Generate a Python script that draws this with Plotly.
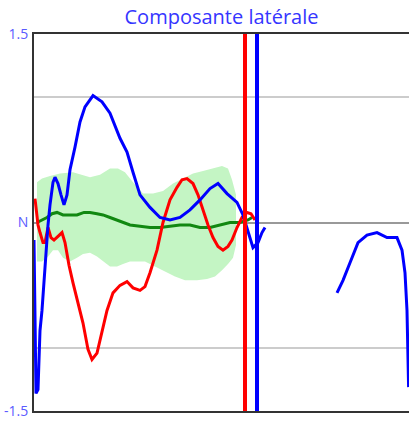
import plotly.graph_objects as go

# ---- data (frame index, normalised lateral component) ----
blue_x = [0, 1, 2, 4, 6, 8, 10, 12, 14, 16, 19, 21, 24, 27, 30, 33, 36, 41, 46, 51, 59, 68, 76, 86, 93, 99,
          106, 116, 126, 136, 146, 156, 166, 176, 184, 193, 203, 209, 214, 219, 224, 228, 231,
          None,
          303, 309, 316, 324, 333, 343, 353, 363, 368, 371, 373, 374, 374.6]
blue_y = [-0.14, -0.62, -1.36, -1.33, -0.86, -0.70, -0.46, -0.18, -0.02, 0.14, 0.32, 0.36, 0.31, 0.22, 0.14,
          0.22, 0.42, 0.60, 0.80, 0.92, 1.01, 0.96, 0.87, 0.67, 0.56, 0.40,
          0.22, 0.12, 0.04, 0.02, 0.04, 0.10, 0.18, 0.27, 0.31, 0.23, 0.16, 0.06, -0.08, -0.20, -0.16, -0.08, -0.04,
          None,
          -0.56, -0.46, -0.32, -0.16, -0.10, -0.08, -0.12, -0.12, -0.22, -0.40, -0.70, -1.01, -1.31]

red_x = [1, 4, 6, 9, 11, 14, 17, 20, 24, 28, 31, 35, 39, 44, 49, 54, 58, 63, 68, 73, 79, 86, 93, 99,
         106, 111, 116, 123, 129, 136, 143, 148, 153, 159, 164, 169, 174, 179, 184, 189, 194, 198,
         203, 208, 213, 217, 221]
red_y = [0.19, -0.02, -0.08, -0.16, -0.16, -0.04, -0.12, -0.14, -0.11, -0.08, -0.16, -0.34, -0.48, -0.64,
         -0.80, -1.01, -1.09, -1.04, -0.88, -0.70, -0.56, -0.50, -0.47, -0.52,
         -0.54, -0.51, -0.40, -0.22, 0.00, 0.18, 0.28, 0.34, 0.35, 0.31, 0.22, 0.10, -0.02, -0.12, -0.19,
         -0.22, -0.19, -0.14, -0.04, 0.04, 0.08, 0.07, 0.02]

green_x = [3, 8, 13, 18, 23, 29, 36, 43, 50, 56, 63, 69, 76, 83, 90, 96, 106, 116, 126, 136, 146, 156,
           166, 176, 186, 196, 206, 214, 218]
green_y = [0.00, 0.02, 0.04, 0.07, 0.08, 0.06, 0.06, 0.06, 0.08, 0.08, 0.07, 0.06, 0.04, 0.02, 0.00,
           -0.02, -0.03, -0.04, -0.04, -0.03, -0.02, -0.02, -0.04, -0.04, -0.02, 0.00, 0.00, 0.02, 0.04]

band_up_x = [3, 8, 16, 26, 39, 49, 56, 66, 76, 84, 91, 99, 109, 119, 129, 139, 149, 159, 169, 179, 188,
             194, 198, 202]
band_up_y = [0.32, 0.35, 0.37, 0.39, 0.40, 0.38, 0.36, 0.38, 0.43, 0.43, 0.40, 0.32, 0.23, 0.23, 0.25,
             0.31, 0.35, 0.39, 0.41, 0.43, 0.45, 0.43, 0.34, 0.22]
band_lo_x = [3, 8, 13, 19, 24, 29, 36, 43, 49, 56, 63, 69, 76, 83, 89, 96, 103, 111, 121, 131, 141,
             151, 163, 173, 181, 188, 194, 199, 202]
band_lo_y = [-0.31, -0.31, -0.28, -0.22, -0.22, -0.28, -0.31, -0.28, -0.25, -0.24, -0.27, -0.31, -0.35,
             -0.35, -0.33, -0.31, -0.31, -0.31, -0.35, -0.39, -0.43, -0.46, -0.46, -0.45, -0.43, -0.38,
             -0.33, -0.28, -0.18]

event_x = [211, 223]
event_colors = ["#ff0000", "#0000ff"]

y_tickvals = [-1.5, -1, 0, 1, 1.5]
y_ticktext = ["-1.5", "", "N", "", "1.5"]

fig = go.Figure()

# band
fig.add_trace(go.Scatter(x=band_up_x + band_lo_x[::-1], y=band_up_y + band_lo_y[::-1],
                         fill="toself", fillcolor="#c4f5c4", line=dict(width=0),
                         mode="lines", hoverinfo="skip", showlegend=False))
fig.add_trace(go.Scatter(x=green_x, y=green_y, mode="lines",
                         line=dict(color="#118811", width=3), showlegend=False))
fig.add_trace(go.Scatter(x=red_x, y=red_y, mode="lines",
                         line=dict(color="#ff0000", width=3), showlegend=False))
fig.add_trace(go.Scatter(x=blue_x, y=blue_y, mode="lines", connectgaps=False,
                         line=dict(color="#0000ff", width=3), showlegend=False))

for ex, ec in zip(event_x, event_colors):
    fig.add_trace(go.Scatter(x=[ex, ex], y=[-1.5, 1.5], mode="lines",
                             line=dict(color=ec, width=4), showlegend=False))

fig.update_layout(
    width=409, height=427,
    margin=dict(l=34, r=0, t=34, b=16, autoexpand=False),
    paper_bgcolor="white", plot_bgcolor="white",
    title=dict(text="Composante latérale", x=0.5, xref="paper", xanchor="center",
               y=1 - 17 / 427, yanchor="middle", automargin=False,
               font=dict(family="Open Sans", size=20, color="#3535ff")),
    xaxis=dict(range=[0, 375], showgrid=False, zeroline=False, showticklabels=False,
               showline=True, linecolor="#333333", linewidth=2, mirror=True, ticks="",
               automargin=False),
    yaxis=dict(range=[-1.5, 1.5], tickvals=y_tickvals, ticktext=y_ticktext,
               showgrid=True, gridcolor="#cccccc", gridwidth=2,
               zeroline=True, zerolinecolor="#999999", zerolinewidth=2,
               showline=True, linecolor="#333333", linewidth=2, ticks="",
               automargin=False, ticklabelstandoff=1,
               tickfont=dict(family="Open Sans", size=14, color="#5a5aff")),
)

fig.write_html("out.html", config={"displayModeBar": False},
               post_script="document.body.style.margin='0';document.body.style.overflow='hidden';")
